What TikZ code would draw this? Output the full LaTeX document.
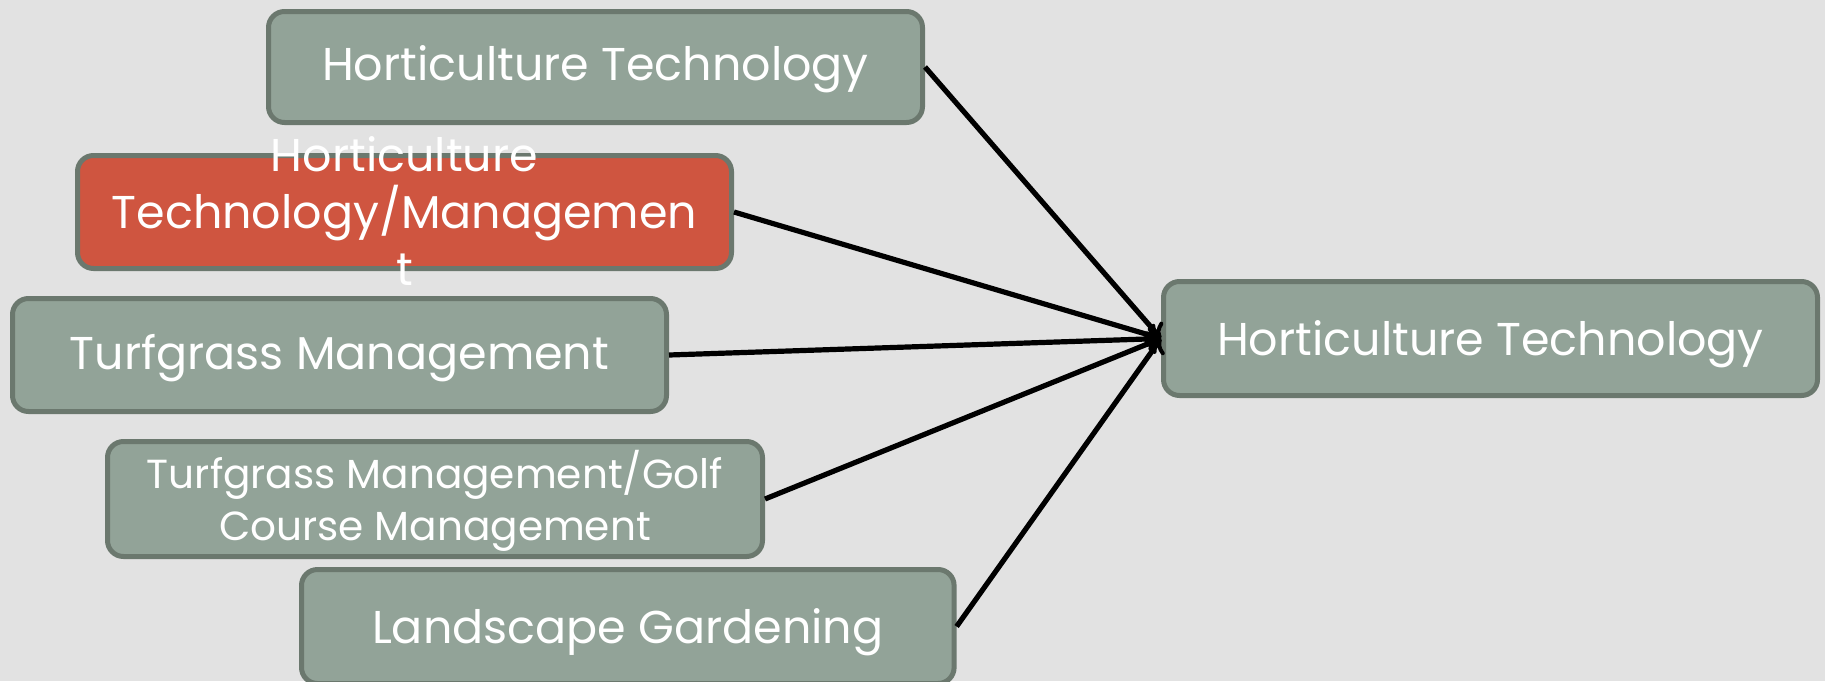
\documentclass[tikz,border=0pt]{standalone}
\usepackage{fontspec}
\setmainfont{Poppins}
\usetikzlibrary{arrows.meta}
\definecolor{pagebg}{HTML}{E2E2E2}
\definecolor{sage}{HTML}{92A398}
\definecolor{sageedge}{HTML}{6B786E}
\definecolor{brick}{HTML}{CF5540}
\tikzset{
  card/.style={draw=sageedge, line width=2.5pt, fill=sage, rounded corners=8pt,
    text=white, inner sep=0pt, anchor=north west, align=center},
  feed/.style={line width=2.6pt, -{To[length=6.5pt,width=12pt,line width=2pt]}},
  bigtext/.style={font=\fontsize{23}{28.5}\selectfont},
  smalltext/.style={font=\fontsize{20.3}{26}\selectfont},
}
\begin{document}
\begin{tikzpicture}[x=0.5pt,y=-0.5pt]
  \fill[pagebg] (0,0) rectangle (1825,681);
  \useasboundingbox (0,0) rectangle (1825,681);

  % source programmes
  \node[card, minimum width=327pt, minimum height=55.5pt] (ht) at (266,9) {};
  \node[card, fill=brick, minimum width=327pt, minimum height=56.5pt] (htm) at (75,153) {};
  \node[card, minimum width=327pt, minimum height=56.5pt] (tm) at (10,296) {};
  \node[card, minimum width=327.5pt, minimum height=57.5pt] (tg) at (105,439) {};
  \node[card, minimum width=326.3pt, minimum height=57pt] (lg) at (299,567) {};
  % target programme
  \node[card, minimum width=327pt, minimum height=57pt] (target) at (1161,279) {};

  % labels
  \node[text=white, bigtext] (htlabel) at ([yshift=-1.3pt]ht.center) {Horticulture Technology};
  \node[text=white, bigtext, align=center] (htmlabel) at ([yshift=0.7pt]htm.center)
    {Horticulture\\Technology/Managemen\\t};
  \node[text=white, bigtext] (tmlabel) at ([yshift=-1.7pt]tm.center) {Turfgrass Management};
  \node[text=white, smalltext, align=center] (tglabel) at ([yshift=-0.9pt]tg.center)
    {Turfgrass Management/Golf\\Course Management};
  \node[text=white, bigtext] (lglabel) at ([yshift=-2.8pt]lg.center) {Landscape Gardening};
  \node[text=white, bigtext] (targetlabel) at ([yshift=-2.8pt]target.center) {Horticulture Technology};

  % connectors
  \foreach \src in {ht,htm,tm,tg,lg}
    \draw[feed] (\src.east) -- (target.west);
\end{tikzpicture}
\end{document}
